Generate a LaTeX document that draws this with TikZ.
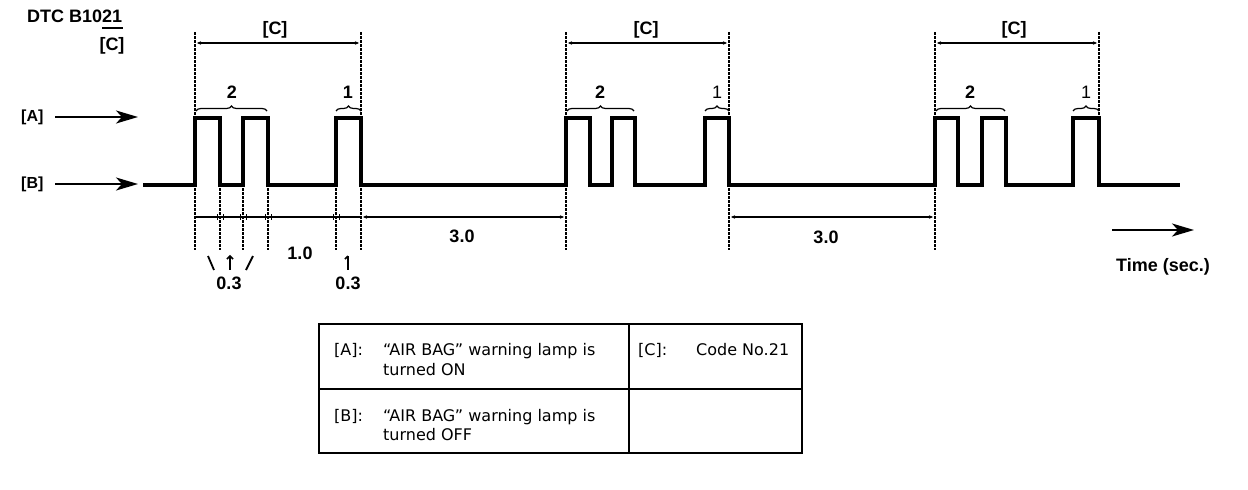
\documentclass[tikz,border=0pt]{standalone}
\usepackage{fontspec}
\setmainfont{Liberation Sans}
\newfontfamily\tabfont{DejaVu Sans}
\usetikzlibrary{arrows.meta,decorations.pathreplacing}
\begin{document}
\begin{tikzpicture}[x=1pt,y=-1pt,
 lbl/.style={font=\bfseries\fontsize{18}{20}\selectfont, inner sep=0pt},
 lbls/.style={font=\bfseries\fontsize{16}{18}\selectfont, inner sep=0pt},
 lbln/.style={font=\fontsize{18}{20}\selectfont, inner sep=0pt},
 wave/.style={line width=3.6pt, line join=miter},
 guide/.style={line width=1.6pt, dash pattern=on 2.5pt off 1.5pt},
 dim/.style={line width=1.6pt, {Stealth[length=4pt,width=3.5pt]}-{Stealth[length=4pt,width=3.5pt]}},
 bigarrow/.style={line width=2pt, -{Stealth[length=22pt,width=13pt,inset=6pt]}},
 brc/.style={decorate, decoration={brace,amplitude=5pt,raise=0pt}, line width=1.2pt},
 cell/.style={font=\tabfont\fontsize{16}{19}\selectfont, inner sep=0pt, anchor=base west}
]
\useasboundingbox (0,0) rectangle (1248,490);

% header
\node[lbl, anchor=west] (dtc) at (27,16) {DTC B1021};
\coordinate (ul1) at (102,28);
\coordinate (ul2) at (123,28);
\draw[line width=1.8pt] (ul1) -- (ul2);
\node[lbl] (cdtc) at (112,46) {[C]};

% row labels
\node[lbls, anchor=west] (la) at (21,117) {[A]};
\node[lbls, anchor=west] (lb) at (21,184) {[B]};
\coordinate (aa1) at (55,117); \coordinate (aa2) at (138,117);
\coordinate (ba1) at (55,184); \coordinate (ba2) at (138,184);
\draw[bigarrow] (aa1) -- (aa2);
\draw[bigarrow] (ba1) -- (ba2);

% waveform
\draw[wave] (143,185) -- (195,185) -- (195,118) -- (220,118) -- (220,185) -- (243,185) -- (243,118) -- (268,118) -- (268,185) -- (336,185) -- (336,118) -- (361,118) -- (361,185)
 -- (566,185) -- (566,118) -- (590,118) -- (590,185) -- (612,185) -- (612,118) -- (635,118) -- (635,185) -- (705,185) -- (705,118) -- (729,118) -- (729,185)
 -- (935,185) -- (935,118) -- (958,118) -- (958,185) -- (982,185) -- (982,118) -- (1006,118) -- (1006,185) -- (1073,185) -- (1073,118) -- (1099,118) -- (1099,185) -- (1180,185);

% guide lines
\draw[guide, line width=2.6pt] (195,32) -- (195,250);
\draw[guide] (361,32) -- (361,250);
\foreach \x in {220,243,268,336} \draw[guide] (\x,188) -- (\x,250);
\draw[guide] (566,32) -- (566,250);
\draw[guide] (729,32) -- (729,250);
\draw[guide] (935,32) -- (935,250);
\draw[guide] (1099,32) -- (1099,118);

% [C] dimensions
\draw[dim] (197,43) -- (359,43);
\node[lbl] (c1) at (275,30) {[C]};
\draw[dim] (568,43) -- (727,43);
\node[lbl] (c2) at (646,30) {[C]};
\draw[dim] (937,43) -- (1097,43);
\node[lbl] (c3) at (1014,30) {[C]};

% braces
\draw[brc] (196,111) -- (267,111);
\node[lbl] (b2a) at (232,92) {2};
\draw[brc] (336,111) -- (361,111);
\node[lbl] (b1a) at (348,92) {1};
\draw[brc] (567,111) -- (634,111);
\node[lbl] (b2b) at (600,92) {2};
\draw[brc] (705,111) -- (729,111);
\node[lbln] (b1b) at (717,92) {1};
\draw[brc] (936,111) -- (1005,111);
\node[lbl] (b2c) at (970,92) {2};
\draw[brc] (1073,111) -- (1099,111);
\node[lbln] (b1c) at (1086,92) {1};

% time line
\draw[line width=2.8pt] (196,217) -- (360,217);
\foreach \x in {220,243,268,336} {\draw[line width=1pt] (\x-3,214) -- (\x-3,220); \draw[line width=1pt] (\x+3,214) -- (\x+3,220);}
\draw[dim, line width=2.4pt] (363,217) -- (564,217);
\node[lbl] (t30a) at (462,236) {3.0};
\draw[dim, line width=2.4pt] (731,217) -- (933,217);
\node[lbl] (t30b) at (826,237) {3.0};
\node[lbl] (t10) at (300,253) {1.0};
\draw[line width=1.8pt] (208,256) -- (214,270);
\draw[line width=1.8pt] (230,256) -- (230,270);
\draw[line width=1.6pt] (227,259) -- (230,256) -- (233,259);
\draw[line width=1.8pt] (253,256) -- (246,270);
\node[lbl] (t03a) at (229,283) {0.3};
\draw[line width=1.8pt] (348,256) -- (348,270);
\draw[line width=1.6pt] (345,259) -- (348,256);
\node[lbl] (t03b) at (348,283) {0.3};

% time arrow
\coordinate (ta1) at (1112,230); \coordinate (ta2) at (1194,230);
\draw[bigarrow] (ta1) -- (ta2);
\node[lbl, anchor=west] (time) at (1116,267) {Time (sec.)};

% table
\draw[line width=2.2pt] (319,324) rectangle (802,453);
\draw[line width=2.2pt] (629,324) -- (629,453);
\draw[line width=2.2pt] (319,389) -- (802,389);
\node[cell] (ta) at (334,355) {[A]:};
\node[cell] (tat1) at (383,355) {“AIR BAG” warning lamp is};
\node[cell] (tat2) at (383,375) {turned ON};
\node[cell] (tb) at (334,421) {[B]:};
\node[cell] (tbt1) at (383,421) {“AIR BAG” warning lamp is};
\node[cell] (tbt2) at (383,440) {turned OFF};
\node[cell] (tc) at (638,355) {[C]:};
\node[cell] (tct) at (696,355) {Code No.21};
\end{tikzpicture}
\end{document}
